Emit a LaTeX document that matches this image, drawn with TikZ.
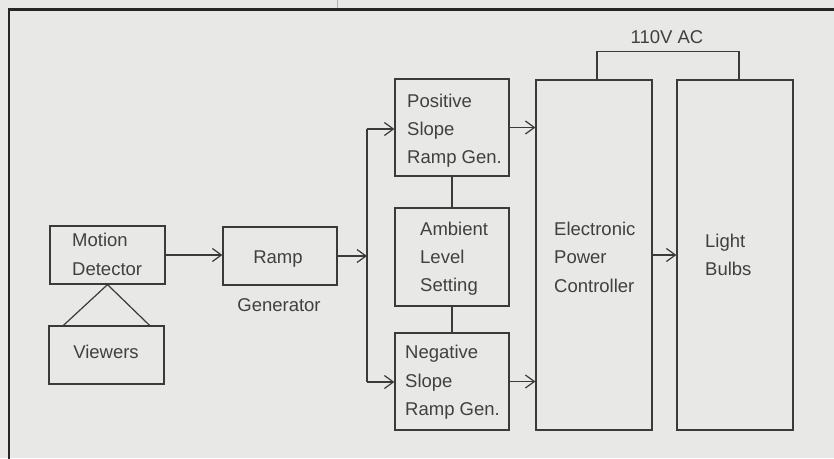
\documentclass[tikz,border=0pt]{standalone}
\usepackage{fontspec}
\setmainfont{Liberation Sans}
\usetikzlibrary{arrows.meta,calc}
\definecolor{bgc}{HTML}{E8E8E6}
\definecolor{inkc}{HTML}{3A3A3A}
\definecolor{txtc}{HTML}{404040}
\definecolor{framec}{HTML}{262626}
\begin{document}
\begin{tikzpicture}[x=1pt,y=-1pt,
  box/.style={draw=inkc, line width=1.2pt, rectangle, inner sep=0pt},
  lbl/.style={anchor=base west, inner sep=0pt, text=txtc, font=\fontsize{18.5pt}{22pt}\selectfont},
  clbl/.style={anchor=base, inner sep=0pt, text=txtc, font=\fontsize{18.5pt}{22pt}\selectfont},
  wire/.style={draw=inkc, line width=1.2pt},
  arr/.style={wire, -{Straight Barb[length=9pt,width=13pt,line width=1.2pt]}}]
% background and margins
\fill[bgc] (0,0) rectangle (834,458);
\useasboundingbox (0,0) rectangle (834,458);
% page frame (cropped)
\draw[framec, line width=2.2pt] (9,470) -- (9,9.5) -- (850,9.5);
\draw[gray!60, line width=0.6pt] (337.5,0) -- (337.5,8);
% boxes
\node[box, minimum width=115pt, minimum height=58pt] (md) at (107.5,255) {};
\node[box, minimum width=115pt, minimum height=58pt] (vw) at (106.5,355) {};
\node[box, minimum width=114pt, minimum height=58pt] (rg) at (280,256) {};
\node[box, minimum width=114pt, minimum height=97pt] (pos) at (452,127.5) {};
\node[box, minimum width=114pt, minimum height=98pt] (amb) at (452,257) {};
\node[box, minimum width=114pt, minimum height=97pt] (neg) at (452,381.5) {};
\node[box, minimum width=116pt, minimum height=350pt] (epc) at (594,255) {};
\node[box, minimum width=116pt, minimum height=350pt] (lb) at (735,255) {};
% texts
\node[lbl] (md1) at (72,246) {Motion};
\node[lbl] (md2) at (72,275) {Detector};
\node[clbl] (vw1) at (106,358) {Viewers};
\node[clbl] (rg1) at (278,263) {Ramp};
\node[clbl] (rg2) at (279,311) {Generator};
\node[lbl] (pos1) at (407,107) {Positive};
\node[lbl] (pos2) at (407,135) {Slope};
\node[lbl] (pos3) at (407,163) {Ramp Gen.};
\node[lbl] (amb1) at (420,235) {Ambient};
\node[lbl] (amb2) at (420,263) {Level};
\node[lbl] (amb3) at (420,291) {Setting};
\node[lbl] (neg1) at (405,358) {Negative};
\node[lbl] (neg2) at (405,387) {Slope};
\node[lbl] (neg3) at (405,415) {Ramp Gen.};
\node[lbl] (epc1) at (554,235) {Electronic};
\node[lbl] (epc2) at (554,263) {Power};
\node[lbl] (epc3) at (554,292) {Controller};
\node[lbl] (lb1) at (705,247) {Light};
\node[lbl] (lb2) at (705,275) {Bulbs};
\node[clbl] (ac) at (667,43) {110V AC};
% connectors
\draw[wire] ($(vw.north west)+(15,0)$) -- (md.south) -- ($(vw.north east)+(-15,0)$);
\draw[arr] (md.east) -- (rg.west |- md.east);
\coordinate (jt) at (367,129);
\coordinate (jb) at (367,382);
\coordinate (jm) at (367,256);
\draw[arr] (rg.east) -- (jm);
\draw[wire] (jt) -- (jb);
\draw[arr] (jt) -- (jt -| pos.west);
\draw[arr] (jb) -- (jb -| neg.west);
\draw[wire] (pos.south) -- (amb.north);
\draw[wire] (amb.south) -- (neg.north);
\draw[arr] (pos.east) -- (pos.east -| epc.west);
\draw[arr] (neg.east) -- (neg.east -| epc.west);
\draw[arr] (epc.east) -- (lb.west);
\draw[wire] ([xshift=3pt]epc.north) -- ++(0,-28) -| ([xshift=4pt]lb.north);
\end{tikzpicture}
\end{document}
